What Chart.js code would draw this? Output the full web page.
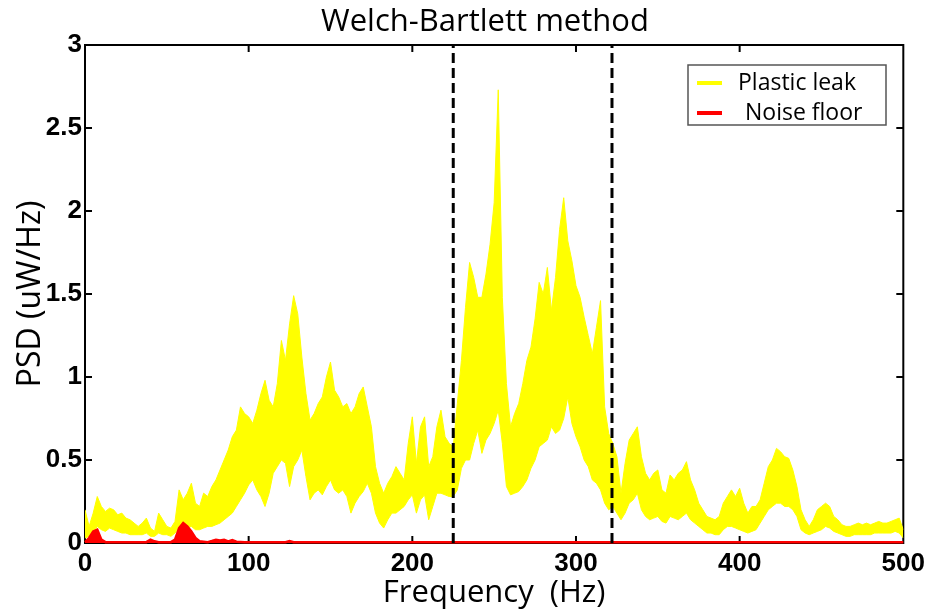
<!DOCTYPE html>
<html>
<head>
<meta charset="utf-8">
<script src="https://cdn.jsdelivr.net/npm/chart.js@4.4.1/dist/chart.umd.min.js"></script>
<style>
    html, body { margin: 0; padding: 0; background: #ffffff; }
    #grafico { display: block; }
</style>
</head>
<body>
<canvas id="grafico" width="930" height="614"></canvas>
<script>
var tituloGrafico = "Welch-Bartlett method";
var tituloX = "Frequency  (Hz)";
var tituloY = "PSD (uW/Hz)";

// amostras a cada 2.5 Hz, de 0 a 500 Hz
var passoFrequencia = 2.5;

// envelope superior das curvas "Plastic leak"
var psdSuperior = [
    0.20, 0.10, 0.18, 0.28, 0.22, 0.19, 0.21, 0.20, 0.17, 0.18,
    0.15, 0.14, 0.12, 0.10, 0.12, 0.15, 0.09, 0.07, 0.18, 0.14,
    0.10, 0.09, 0.13, 0.32, 0.26, 0.30, 0.36, 0.24, 0.22, 0.30,
    0.28, 0.34, 0.38, 0.44, 0.50, 0.56, 0.64, 0.68, 0.82, 0.78,
    0.76, 0.72, 0.80, 0.90, 0.98, 0.86, 0.82, 0.96, 1.22, 1.10,
    1.32, 1.49, 1.38, 1.12, 0.90, 0.74, 0.78, 0.84, 0.88, 1.00,
    1.09, 0.92, 0.88, 0.82, 0.84, 0.78, 0.82, 0.90, 0.94, 0.82,
    0.70, 0.46, 0.36, 0.30, 0.36, 0.40, 0.46, 0.42, 0.38, 0.60,
    0.76, 0.48, 0.70, 0.76, 0.46, 0.52, 0.70, 0.80, 0.64, 0.60,
    0.58, 0.84, 1.10, 1.42, 1.69, 1.60, 1.48, 1.48, 1.62, 1.80,
    2.05, 2.73, 1.48, 0.96, 0.70, 0.78, 0.84, 0.96, 1.10, 1.18,
    1.35, 1.57, 1.50, 1.66, 1.40, 1.60, 1.89, 2.08, 1.82, 1.70,
    1.55, 1.48, 1.36, 1.25, 1.14, 1.30, 1.46, 0.82, 0.66, 0.60,
    0.52, 0.30, 0.48, 0.62, 0.66, 0.70, 0.52, 0.42, 0.38, 0.42,
    0.44, 0.32, 0.30, 0.41, 0.38, 0.42, 0.44, 0.49, 0.38, 0.32,
    0.24, 0.20, 0.16, 0.15, 0.14, 0.16, 0.24, 0.28, 0.32, 0.28,
    0.33, 0.24, 0.18, 0.22, 0.22, 0.26, 0.36, 0.46, 0.50, 0.57,
    0.55, 0.52, 0.51, 0.44, 0.34, 0.20, 0.14, 0.10, 0.14, 0.20,
    0.22, 0.24, 0.22, 0.16, 0.14, 0.11, 0.10, 0.10, 0.11, 0.12,
    0.11, 0.12, 0.11, 0.12, 0.13, 0.12, 0.12, 0.13, 0.14, 0.15,
    0.08
];

// envelope inferior das curvas "Plastic leak"
var psdInferior = [
    0.03, 0.04, 0.06, 0.10, 0.08, 0.07, 0.09, 0.08, 0.07, 0.06,
    0.06, 0.05, 0.05, 0.05, 0.05, 0.06, 0.04, 0.04, 0.06, 0.05,
    0.05, 0.04, 0.06, 0.09, 0.08, 0.09, 0.10, 0.08, 0.08, 0.09,
    0.10, 0.10, 0.11, 0.12, 0.14, 0.16, 0.18, 0.22, 0.26, 0.30,
    0.35, 0.38, 0.32, 0.28, 0.22, 0.30, 0.42, 0.46, 0.50, 0.48,
    0.34, 0.46, 0.50, 0.56, 0.40, 0.26, 0.30, 0.32, 0.29, 0.34,
    0.38, 0.32, 0.30, 0.32, 0.28, 0.18, 0.24, 0.28, 0.31, 0.36,
    0.30, 0.18, 0.12, 0.09, 0.14, 0.18, 0.18, 0.20, 0.22, 0.26,
    0.29, 0.18, 0.26, 0.29, 0.14, 0.22, 0.30, 0.30, 0.29, 0.28,
    0.28, 0.32, 0.45, 0.50, 0.50, 0.60, 0.68, 0.54, 0.62, 0.66,
    0.72, 0.80, 0.60, 0.34, 0.29, 0.30, 0.31, 0.34, 0.38, 0.45,
    0.50, 0.58, 0.60, 0.62, 0.70, 0.66, 0.68, 0.75, 0.88, 0.72,
    0.64, 0.58, 0.50, 0.46, 0.38, 0.36, 0.32, 0.24, 0.20, 0.22,
    0.18, 0.14, 0.18, 0.24, 0.26, 0.30, 0.20, 0.16, 0.14, 0.15,
    0.16, 0.13, 0.12, 0.16, 0.15, 0.14, 0.16, 0.18, 0.14, 0.12,
    0.10, 0.08, 0.06, 0.06, 0.05, 0.05, 0.08, 0.10, 0.10, 0.09,
    0.08, 0.07, 0.06, 0.07, 0.08, 0.12, 0.16, 0.20, 0.22, 0.24,
    0.24, 0.22, 0.22, 0.20, 0.16, 0.08, 0.06, 0.05, 0.06, 0.07,
    0.08, 0.10, 0.09, 0.07, 0.06, 0.05, 0.04, 0.04, 0.05, 0.05,
    0.05, 0.05, 0.05, 0.06, 0.06, 0.06, 0.06, 0.06, 0.07, 0.06,
    0.03
];

// noise floor (pontos irregulares)
var ruidoFrequencias = [0, 2.5, 5, 7.5, 10, 12.5, 37.5, 40, 42.5, 45, 52.5, 55, 57.5, 60, 62.5, 65, 67.5, 70, 75, 77.5, 80, 82.5, 85, 87.5, 90, 92.5, 97.5, 122.5, 125, 127.5, 500];
var ruidoValores = [0.005, 0.03, 0.07, 0.08, 0.02, 0.005, 0.005, 0.02, 0.01, 0.005, 0.005, 0.02, 0.09, 0.12, 0.10, 0.07, 0.03, 0.01, 0.005, 0.012, 0.02, 0.015, 0.02, 0.01, 0.018, 0.008, 0.005, 0.005, 0.012, 0.005, 0.005];

// linhas tracejadas verticais (Hz)
var linhasCorte = [225, 322];

var ticksX = [0, 100, 200, 300, 400, 500];
var ticksY = [0, 0.5, 1, 1.5, 2, 2.5, 3];

var frequencias = [];
for (var i = 0; i < psdSuperior.length; i++) {
    frequencias.push(i * passoFrequencia);
}

function montarPontos(xs, ys) {
    var pontos = [];
    for (var i = 0; i < xs.length; i++) {
        pontos.push({ x: xs[i], y: ys[i] });
    }
    return pontos;
}

var datasets = [];

// tracejadas primeiro = desenhadas por cima
for (var j = 0; j < linhasCorte.length; j++) {
    datasets.push({
        label: "corte " + linhasCorte[j],
        data: [{ x: linhasCorte[j], y: 0 }, { x: linhasCorte[j], y: 3 }],
        borderColor: "#000000",
        borderWidth: 3,
        borderDash: [10, 5],
        pointRadius: 0,
        fill: false
    });
}

datasets.push({
    label: "Noise floor",
    data: montarPontos(ruidoFrequencias, ruidoValores),
    borderColor: "#ff0000",
    backgroundColor: "#ff0000",
    borderWidth: 2.5,
    pointRadius: 0,
    fill: "origin",
    clip: false,
    legenda: true
});

datasets.push({
    label: "Plastic leak",
    data: montarPontos(frequencias, psdSuperior),
    borderColor: "#ffff00",
    backgroundColor: "#ffff00",
    borderWidth: 1,
    pointRadius: 0,
    fill: "+1",
    legenda: true
});

datasets.push({
    label: "Plastic leak (min)",
    data: montarPontos(frequencias, psdInferior),
    borderColor: "#ffff00",
    borderWidth: 1,
    pointRadius: 0,
    fill: false
});

// moldura com ticks para dentro, titulo e legenda
var molduraPlugin = {
    id: "moldura",
    beforeDatasetsDraw: function (chart) {
        var ctx = chart.ctx;
        var area = chart.chartArea;
        var sx = chart.scales.x;
        var sy = chart.scales.y;
        ctx.save();
        ctx.strokeStyle = "#000000";
        ctx.lineWidth = 2;
        ctx.strokeRect(area.left, area.top, area.right - area.left, area.bottom - area.top);
        ctx.beginPath();
        for (var i = 1; i < ticksX.length - 1; i++) {
            var px = sx.getPixelForValue(ticksX[i]);
            ctx.moveTo(px, area.bottom);
            ctx.lineTo(px, area.bottom - 7);
            ctx.moveTo(px, area.top);
            ctx.lineTo(px, area.top + 7);
        }
        for (var k = 1; k < ticksY.length - 1; k++) {
            var py = sy.getPixelForValue(ticksY[k]);
            ctx.moveTo(area.left, py);
            ctx.lineTo(area.left + 7, py);
            ctx.moveTo(area.right, py);
            ctx.lineTo(area.right - 7, py);
        }
        ctx.stroke();
        ctx.restore();
    },
    afterDraw: function (chart) {
        var ctx = chart.ctx;
        ctx.save();

        // titulo
        ctx.fillStyle = "#000000";
        ctx.font = "31px 'Open Sans'";
        ctx.textAlign = "center";
        ctx.textBaseline = "middle";
        ctx.fillText(tituloGrafico, 485, 22);

        // legenda
        var lx = 688, ly = 65, lw = 198, lh = 60;
        ctx.fillStyle = "#ffffff";
        ctx.fillRect(lx, ly, lw, lh);
        ctx.strokeStyle = "#555555";
        ctx.lineWidth = 1.5;
        ctx.strokeRect(lx, ly, lw, lh);

        var itens = chart.data.datasets.filter(function (d) { return d.legenda; }).reverse();
        ctx.font = "23px 'Open Sans'";
        ctx.textAlign = "left";
        for (var i = 0; i < itens.length; i++) {
            var cy = ly + 18 + i * 30;
            ctx.strokeStyle = itens[i].borderColor;
            ctx.lineWidth = 4;
            ctx.beginPath();
            ctx.moveTo(lx + 9, cy);
            ctx.lineTo(lx + 34, cy);
            ctx.stroke();
            ctx.fillStyle = "#000000";
            ctx.fillText((i === 0 ? "" : " ") + itens[i].label, lx + 50 + (i === 0 ? 0 : 1), cy);
        }
        ctx.restore();
    }
};

new Chart(document.getElementById("grafico"), {
    type: "line",
    data: { datasets: datasets },
    options: {
        responsive: false,
        animation: false,
        devicePixelRatio: 1,
        layout: { padding: { top: 45, right: 25, bottom: 0, left: 0 } },
        elements: { line: { tension: 0 } },
        plugins: {
            legend: { display: false },
            title: { display: false },
            tooltip: { enabled: false }
        },
        scales: {
            x: {
                type: "linear",
                min: 0,
                max: 500,
                afterBuildTicks: function (scale) {
                    scale.ticks = ticksX.map(function (v) { return { value: v }; });
                },
                afterFit: function (scale) { scale.height = 71; },
                grid: { display: false, drawTicks: false },
                border: { display: false },
                ticks: {
                    color: "#000000",
                    font: { family: "'Liberation Sans', Arial", weight: "bold", size: 26 },
                    padding: 5,
                    maxRotation: 0,
                    autoSkip: false,
                    callback: function (valor) { return String(valor); }
                },
                title: {
                    display: true,
                    text: tituloX,
                    color: "#000000",
                    font: { family: "'Open Sans'", size: 31 },
                    padding: { top: 0, bottom: 2 }
                }
            },
            y: {
                type: "linear",
                min: 0,
                max: 3,
                afterBuildTicks: function (scale) {
                    scale.ticks = ticksY.map(function (v) { return { value: v }; });
                },
                afterFit: function (scale) { scale.width = 85; },
                grid: { display: false, drawTicks: false },
                border: { display: false },
                ticks: {
                    color: "#000000",
                    font: { family: "'Liberation Sans', Arial", weight: "bold", size: 26 },
                    padding: 3,
                    callback: function (valor) { return String(valor); }
                },
                title: {
                    display: true,
                    text: tituloY,
                    color: "#000000",
                    font: { family: "'Open Sans'", size: 32 },
                    padding: { top: 12, bottom: 0 }
                }
            }
        }
    },
    plugins: [molduraPlugin]
});
</script>
</body>
</html>
